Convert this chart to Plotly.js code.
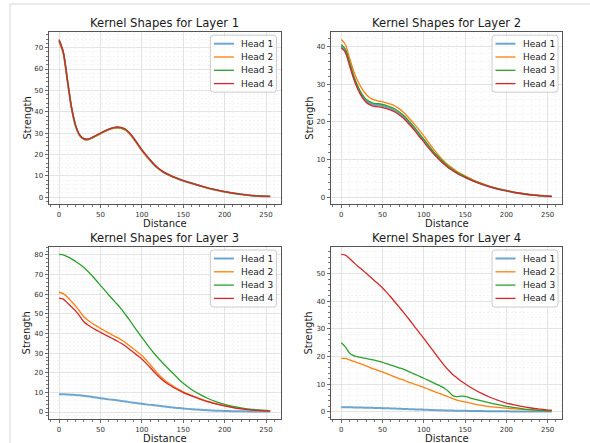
<!DOCTYPE html>
<html>
<head>
<meta charset="utf-8">
<script src="https://cdn.plot.ly/plotly-3.0.1.min.js"></script>
<style>html,body{margin:0;padding:0;background:#fff;}#chart{width:590px;height:443px;}</style>
</head>
<body>
<div id="chart"></div>
<script>
// ---------------- data ----------------
const distance = [0,5,10,15,20,25,30,35,40,45,50,55,60,65,70,75,80,85,90,95,100,105,110,115,120,125,130,135,140,145,150,160,170,180,190,200,210,220,230,240,250,255];
const heads = ["Head 1","Head 2","Head 3","Head 4"];
const layerTitles = ["Kernel Shapes for Layer 1","Kernel Shapes for Layer 2","Kernel Shapes for Layer 3","Kernel Shapes for Layer 4"];

const layer1Head1 = [73.3,67.9,55.0,42.0,33.4,28.9,27.2,27.0,27.8,28.8,29.8,30.8,31.7,32.3,32.6,32.4,31.6,29.9,27.5,24.8,22.0,19.6,17.3,15.2,13.4,12.0,10.9,10.0,9.2,8.4,7.7,6.5,5.35,4.25,3.35,2.55,1.88,1.33,0.9,0.6,0.4,0.35];
const layer1Head2 = [72.5,67.5,54.8,41.9,33.3,28.8,27.1,26.9,27.7,28.7,29.7,30.7,31.6,32.2,32.4,32.2,31.4,29.7,27.3,24.6,21.8,19.4,17.2,15.1,13.3,11.9,10.8,9.9,9.1,8.4,7.7,6.5,5.35,4.25,3.35,2.55,1.88,1.33,0.9,0.6,0.4,0.35];
const layer1Head3 = [73.4,68.0,55.1,42.1,33.5,29.0,27.3,27.1,27.9,28.9,29.9,30.9,31.8,32.4,32.7,32.5,31.7,30.0,27.6,24.9,22.1,19.7,17.4,15.2,13.4,12.0,10.9,10.0,9.2,8.45,7.75,6.55,5.38,4.28,3.38,2.58,1.9,1.34,0.9,0.6,0.4,0.35];
const layer1Head4 = [73.8,68.2,55.2,42.2,33.6,29.1,27.4,27.2,28.0,29.0,30.0,31.0,31.9,32.5,32.9,32.7,31.9,30.2,27.8,25.0,22.2,19.8,17.5,15.3,13.5,12.1,11.0,10.1,9.3,8.5,7.8,6.6,5.4,4.3,3.4,2.6,1.9,1.35,0.9,0.6,0.4,0.35];

const layer2Head1 = [40.0,38.8,35.4,31.9,29.1,27.0,25.6,24.9,24.5,24.4,24.2,23.9,23.5,23.0,22.3,21.4,20.3,19.1,17.8,16.4,15.1,13.7,12.3,11.1,10.0,8.9,8.0,7.25,6.5,5.9,5.4,4.4,3.55,2.82,2.22,1.76,1.3,0.97,0.68,0.48,0.3,0.25];
const layer2Head2 = [41.8,40.5,37.0,33.5,30.8,28.8,27.3,26.3,25.8,25.5,25.3,25.0,24.7,24.2,23.5,22.6,21.5,20.3,19.0,17.7,16.3,14.8,13.3,11.9,10.6,9.5,8.5,7.7,6.9,6.3,5.7,4.6,3.7,2.9,2.3,1.8,1.35,1.0,0.7,0.5,0.3,0.25];
const layer2Head3 = [40.5,39.3,35.9,32.3,29.5,27.4,26.0,25.3,24.9,24.8,24.6,24.3,23.9,23.4,22.7,21.8,20.7,19.5,18.2,16.8,15.4,14.0,12.6,11.3,10.2,9.1,8.2,7.4,6.7,6.05,5.5,4.45,3.6,2.85,2.25,1.78,1.32,0.98,0.69,0.49,0.3,0.25];
const layer2Head4 = [39.6,38.4,35.0,31.5,28.7,26.6,25.2,24.5,24.1,24.0,23.8,23.5,23.1,22.6,21.9,21.0,19.9,18.7,17.4,16.0,14.7,13.3,12.0,10.8,9.7,8.7,7.8,7.1,6.4,5.8,5.3,4.3,3.5,2.8,2.2,1.75,1.3,0.97,0.68,0.48,0.3,0.25];

const layer3Head1 = [9.0,9.0,8.95,8.85,8.7,8.5,8.3,8.0,7.7,7.35,7.0,6.75,6.45,6.2,5.95,5.65,5.35,5.05,4.75,4.45,4.2,3.9,3.65,3.4,3.15,2.9,2.65,2.42,2.2,2.0,1.8,1.45,1.15,0.9,0.7,0.55,0.45,0.38,0.33,0.3,0.3,0.3];
const layer3Head2 = [61.0,60.3,58.6,56.3,54.0,51.3,48.5,46.7,45.2,43.9,42.6,41.4,40.3,39.1,38.0,36.8,35.4,33.8,32.1,30.5,28.8,26.6,24.2,21.7,19.3,17.2,15.4,14.0,12.6,11.4,10.3,8.5,6.9,5.4,4.2,3.2,2.4,1.7,1.2,0.85,0.6,0.55];
const layer3Head3 = [80.3,80.0,79.1,78.0,76.7,75.3,73.6,71.6,69.4,67.0,64.5,62.1,59.6,57.3,55.0,52.5,49.8,46.9,43.9,40.9,38.0,35.2,32.4,29.8,27.4,25.1,22.9,20.8,18.7,16.6,14.6,11.5,9.0,6.9,5.2,3.9,2.9,2.1,1.5,1.1,0.8,0.7];
const layer3Head4 = [58.0,57.5,55.7,53.6,51.5,48.8,46.0,44.3,42.9,41.7,40.6,39.5,38.4,37.3,36.2,35.0,33.6,32.0,30.3,28.7,27.0,24.9,22.7,20.4,18.2,16.3,14.7,13.4,12.1,11.0,9.9,8.2,6.6,5.2,4.1,3.1,2.3,1.65,1.15,0.8,0.6,0.55];

const layer4Head1 = [1.6,1.58,1.55,1.52,1.49,1.45,1.42,1.38,1.34,1.3,1.25,1.2,1.15,1.1,1.04,0.98,0.92,0.86,0.8,0.75,0.7,0.64,0.58,0.52,0.47,0.42,0.38,0.35,0.32,0.3,0.28,0.22,0.17,0.13,0.1,0.08,0.07,0.06,0.05,0.05,0.05,0.05];
const layer4Head2 = [19.3,19.3,18.8,18.2,17.7,17.2,16.6,16.0,15.4,14.9,14.4,13.8,13.2,12.6,12.0,11.5,10.9,10.4,9.8,9.3,8.8,8.2,7.6,7.0,6.5,5.9,5.3,4.7,4.2,3.8,3.5,2.8,2.25,1.8,1.5,1.25,1.0,0.8,0.6,0.45,0.3,0.25];
const layer4Head3 = [25.0,23.5,21.3,20.3,19.9,19.6,19.3,19.0,18.7,18.3,17.9,17.4,16.9,16.4,15.9,15.4,14.8,14.1,13.4,12.8,12.1,11.4,10.7,10.0,9.3,8.5,7.3,5.8,5.4,5.6,5.5,4.6,3.85,3.15,2.5,1.9,1.4,1.0,0.7,0.45,0.3,0.25];
const layer4Head4 = [57.1,56.8,55.6,54.2,52.8,51.6,50.3,49.0,47.6,46.3,44.9,43.3,41.6,39.8,38.0,36.2,34.3,32.4,30.4,28.5,26.6,24.6,22.6,20.6,18.6,16.7,15.0,13.5,12.3,11.1,10.1,8.2,6.6,5.2,4.1,3.1,2.4,1.8,1.3,0.9,0.55,0.5];

const layers = [
  [layer1Head1, layer1Head2, layer1Head3, layer1Head4],
  [layer2Head1, layer2Head2, layer2Head3, layer2Head4],
  [layer3Head1, layer3Head2, layer3Head3, layer3Head4],
  [layer4Head1, layer4Head2, layer4Head3, layer4Head4]
];

// ---------------- styling ----------------
const W = 590, H = 443;
const FONT = "DejaVu Sans, sans-serif";
const colors = ["rgba(31,119,180,0.65)", "#ff7f0e", "#2ca02c", "#d62728"];
const widths = [2.0, 1.3, 1.3, 1.3];
const px = x => x / W;
const py = y => 1 - y / H;
const boxes = [
  {x0: 48.5, x1: 280.7, y0: 31.7, y1: 204.3},
  {x0: 330.7, x1: 562.3, y0: 31.7, y1: 204.3},
  {x0: 48.5, x1: 280.7, y0: 246.5, y1: 419.3},
  {x0: 330.7, x1: 562.3, y0: 246.5, y1: 419.3}
];

function yRange(series) {
  let lo = Infinity, hi = -Infinity;
  series.forEach(s => s.forEach(v => { lo = Math.min(lo, v); hi = Math.max(hi, v); }));
  const m = (hi - lo) * 0.05;
  return [lo - m, hi + m];
}
const xMin = distance[0], xMax = distance[distance.length - 1];
const xM = (xMax - xMin) * 0.05;

const traces = [];
const layout = {
  width: W, height: H,
  margin: {l: 0, r: 0, t: 0, b: 0},
  paper_bgcolor: "#fff", plot_bgcolor: "#fff",
  font: {family: FONT, color: "#222"},
  showlegend: false,
  annotations: [], shapes: []
};

// notebook frame lines
layout.shapes.push({type: "line", xref: "paper", yref: "paper", x0: px(10), x1: px(590), y0: py(4), y1: py(4), line: {color: "#d6d6d6", width: 1}, layer: "below"});
layout.shapes.push({type: "line", xref: "paper", yref: "paper", x0: px(10), x1: px(10), y0: py(4), y1: py(443), line: {color: "#d6d6d6", width: 1}, layer: "below"});

layers.forEach((series, li) => {
  const n = li === 0 ? "" : String(li + 1);
  const b = boxes[li];
  series.forEach((ys, hi) => {
    traces.push({
      type: "scatter", mode: "lines", x: distance, y: ys,
      xaxis: "x" + n, yaxis: "y" + n, name: heads[hi],
      line: {color: colors[hi], width: widths[hi], shape: "spline", smoothing: 0.8}, hoverinfo: "skip"
    });
  });
  const common = {
    ticks: "outside", ticklen: 3, tickwidth: 0.8, tickcolor: "#444",
    showline: true, mirror: true, linecolor: "#555", linewidth: 1,
    showgrid: true, gridcolor: "#dddddd", gridwidth: 0.8, zeroline: false,
    tickfont: {family: FONT, size: 7, color: "#333"}, fixedrange: true
  };
  const minorCommon = {ticks: "outside", ticklen: 1.8, tickcolor: "#555", showgrid: true, gridcolor: "#eeeeee", griddash: "2px,2px", gridwidth: 0.6};
  layout["xaxis" + n] = Object.assign({}, common, {
    domain: [px(b.x0), px(b.x1)], anchor: "y" + n,
    range: [xMin - xM, xMax + xM], tick0: 0, dtick: 50,
    minor: Object.assign({dtick: 10, tick0: 0}, minorCommon)
  });
  layout["yaxis" + n] = Object.assign({}, common, {
    domain: [py(b.y1), py(b.y0)], anchor: "x" + n,
    range: yRange(series), tick0: 0, dtick: 10,
    minor: Object.assign({dtick: 2, tick0: 0}, minorCommon)
  });

  const cx = (b.x0 + b.x1) / 2, cy = (b.y0 + b.y1) / 2;
  layout.annotations.push({xref: "paper", yref: "paper", x: px(cx), y: py(b.y0 - 8.7), text: layerTitles[li], showarrow: false, xanchor: "center", yanchor: "middle", font: {family: FONT, size: 11.6, color: "#1a1a1a"}, borderpad: 0});
  layout.annotations.push({xref: "paper", yref: "paper", x: px(cx), y: py(b.y1 + 19), text: "Distance", showarrow: false, xanchor: "center", yanchor: "middle", font: {family: FONT, size: 10, color: "#1a1a1a"}, borderpad: 0});
  layout.annotations.push({xref: "paper", yref: "paper", x: px(b.x0 - 22), y: py(cy), text: "Strength", textangle: -90, showarrow: false, xanchor: "center", yanchor: "middle", font: {family: FONT, size: 10, color: "#1a1a1a"}, borderpad: 0});

  // legend box (rounded)
  const lw = 66, lh = 57, r = 3;
  const lx1 = b.x1 - 4.3, lx0 = lx1 - lw, ly0 = b.y0 + 3.5, ly1 = ly0 + lh;
  const P = (x, y) => px(x) + "," + py(y);
  const path = "M" + P(lx0 + r, ly0) + " L" + P(lx1 - r, ly0) + " Q" + P(lx1, ly0) + " " + P(lx1, ly0 + r) +
    " L" + P(lx1, ly1 - r) + " Q" + P(lx1, ly1) + " " + P(lx1 - r, ly1) +
    " L" + P(lx0 + r, ly1) + " Q" + P(lx0, ly1) + " " + P(lx0, ly1 - r) +
    " L" + P(lx0, ly0 + r) + " Q" + P(lx0, ly0) + " " + P(lx0 + r, ly0) + " Z";
  layout.shapes.push({type: "path", xref: "paper", yref: "paper", path: path, fillcolor: "rgba(255,255,255,0.8)", line: {color: "#cccccc", width: 1}, layer: "above"});
  heads.forEach((h, hi) => {
    const iy = ly0 + 8.5 + hi * 13.3;
    layout.shapes.push({type: "line", xref: "paper", yref: "paper", x0: px(lx0 + 3.5), x1: px(lx0 + 23.5), y0: py(iy), y1: py(iy), line: {color: colors[hi], width: widths[hi]}, layer: "above"});
    layout.annotations.push({xref: "paper", yref: "paper", x: px(lx0 + 29.5), y: py(iy), text: h, showarrow: false, xanchor: "left", yanchor: "middle", font: {family: FONT, size: 9, color: "#1a1a1a"}, borderpad: 0});
  });
});

Plotly.newPlot("chart", traces, layout, {displayModeBar: false, staticPlot: true});
</script>
</body>
</html>
